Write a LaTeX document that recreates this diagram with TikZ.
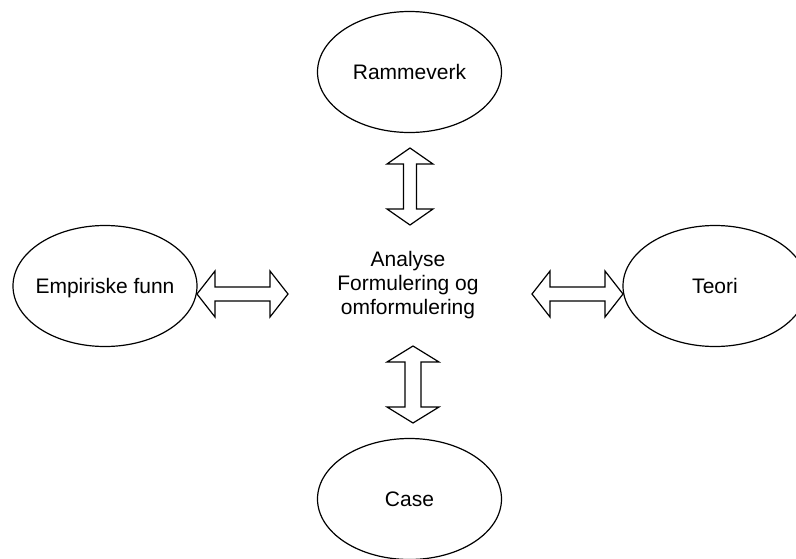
\documentclass[tikz,border=0pt]{standalone}
\usepackage{fontspec}
\setmainfont{Liberation Sans}
\usetikzlibrary{calc,shapes.geometric}
\newcommand\vdblarrow[5]{\draw[blockarrow] (#1) -- ++(#4,#5) -- ++({-(#4-#3)},0) -- ($(#2)+(#3,-#5)$) -- ++({#4-#3},0) -- (#2) -- ++(-#4,-#5) -- ++({#4-#3},0) -- ($(#1)+(-#3,#5)$) -- ++({-(#4-#3)},0) -- cycle;}
\newcommand\hdblarrow[5]{\draw[blockarrow] (#1) -- ++(#5,-#4) -- ++(0,{#4-#3}) -- ($(#2)+(-#5,-#3)$) -- ++(0,{-(#4-#3)}) -- (#2) -- ++(-#5,#4) -- ++(0,{-(#4-#3)}) -- ($(#1)+(#5,#3)$) -- ++(0,{#4-#3}) -- cycle;}
\begin{document}
\begin{tikzpicture}[x=1pt,y=-1pt,
  ell/.style={draw, ellipse, line width=1.2pt, minimum width=184pt, minimum height=121pt, inner sep=0pt},
  lbl/.style={font=\fontsize{21}{24}\selectfont, text height=15pt, text depth=0pt, inner sep=0pt},
  blockarrow/.style={draw, line width=1.2pt, fill=white, line join=miter}]
\useasboundingbox (0,0) rectangle (796,558);
\clip (0,0) rectangle (796,558);
\fill[white] (0,0) rectangle (796,558);
% ellipses
\node[ell] (ram) at (409.5,72) {};
\node[ell] (emp) at (105,286) {};
\node[ell] (teo) at (715,286) {};
\node[ell] (cas) at (409.5,499) {};
\node[lbl] (ramt) at (ram) {Rammeverk};
\node[lbl] (empt) at (emp) {Empiriske funn};
\node[lbl] (teot) at (teo) {Teori};
\node[lbl] (cast) at (cas) {Case};
% centre text
\node[font=\fontsize{21}{24}\selectfont, align=center, inner sep=0pt] (ana) at (408,285.5) {Analyse\\Formulering og\\omformulering};
% arrow end points
\coordinate (t1) at (410,148);
\coordinate (t2) at (410,225);
\coordinate (b1) at (413,346);
\coordinate (b2) at (413,423);
\coordinate (l1) at (197,294);
\coordinate (l2) at (288,294);
\coordinate (r1) at (532,294);
\coordinate (r2) at (623,294);
\vdblarrow{t1}{t2}{6.5}{23}{16}
\vdblarrow{b1}{b2}{8}{26}{16}
\hdblarrow{l1}{l2}{7}{23}{18}
\hdblarrow{r1}{r2}{7}{23}{18}
\end{tikzpicture}
\end{document}
